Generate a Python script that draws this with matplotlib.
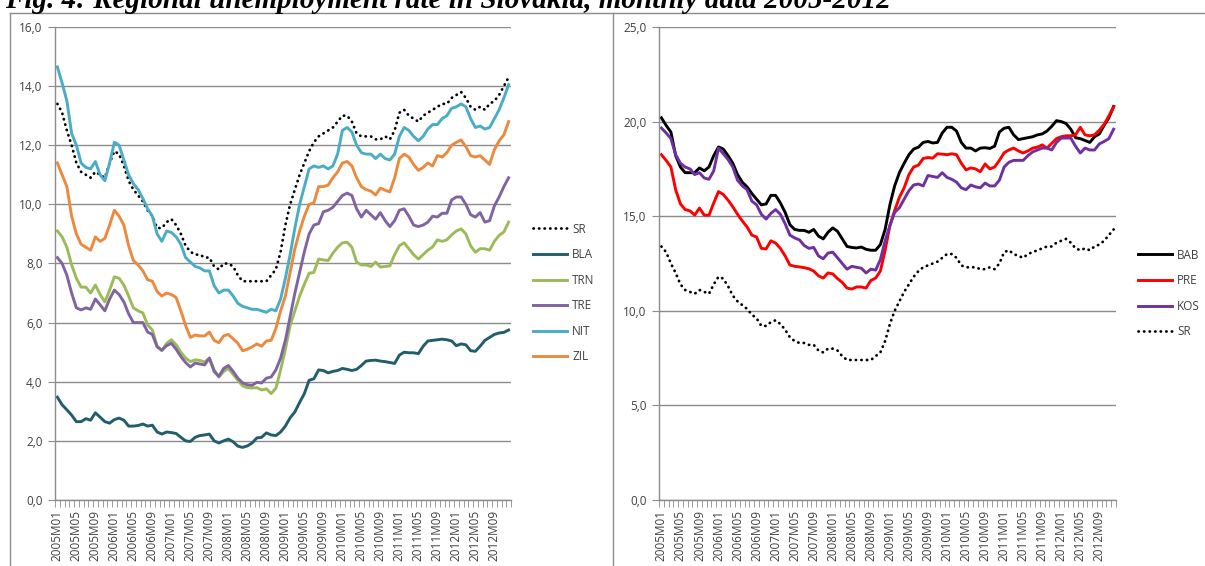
import matplotlib
matplotlib.use("Agg")
import matplotlib.pyplot as plt
from matplotlib.lines import Line2D
from matplotlib.ticker import FuncFormatter
import numpy as np

# months 2005M01 .. 2012M12
months = [f"{y}M{m:02d}" for y in range(2005, 2013) for m in range(1, 13)]

# unemployment rates (%)
SR = [13.4, 13.1, 12.5, 12.0, 11.4, 11.1, 11.0, 10.9, 11.1, 11.0, 10.9, 11.4,
      11.8, 11.7, 11.3, 10.8, 10.5, 10.3, 10.1, 9.8, 9.6, 9.2, 9.2, 9.4,
      9.5, 9.3, 9.0, 8.6, 8.4, 8.3, 8.3, 8.2, 8.2, 7.9, 7.8, 8.0,
      8.0, 7.9, 7.6, 7.4, 7.4, 7.4, 7.4, 7.4, 7.4, 7.6, 7.8, 8.4,
      9.3, 10.0, 10.5, 11.0, 11.4, 11.8, 12.1, 12.3, 12.4, 12.5, 12.6, 12.8,
      13.0, 13.0, 12.8, 12.4, 12.3, 12.3, 12.3, 12.2, 12.2, 12.3, 12.2, 12.5,
      13.1, 13.2, 13.0, 12.9, 12.8, 13.0, 13.1, 13.2, 13.3, 13.4, 13.4, 13.6,
      13.7, 13.8, 13.6, 13.3, 13.2, 13.3, 13.2, 13.4, 13.5, 13.7, 14.0, 14.3]

BLA = [3.48, 3.22, 3.05, 2.87, 2.65, 2.65, 2.75, 2.7, 2.95, 2.8, 2.65, 2.6,
       2.72, 2.77, 2.7, 2.5, 2.5, 2.52, 2.57, 2.5, 2.53, 2.3, 2.23, 2.3,
       2.28, 2.25, 2.12, 2.0, 1.98, 2.12, 2.18, 2.2, 2.23, 2.0, 1.93, 2.0,
       2.06, 1.97, 1.82, 1.78, 1.83, 1.93, 2.1, 2.12, 2.27, 2.2, 2.18, 2.3,
       2.5, 2.78, 2.98, 3.3, 3.6, 4.05, 4.1, 4.4, 4.38, 4.3, 4.35, 4.38,
       4.45, 4.42, 4.38, 4.42, 4.55, 4.7, 4.72, 4.73, 4.7, 4.68, 4.65, 4.62,
       4.9, 5.0, 4.98, 4.98, 4.95, 5.2, 5.38, 5.4, 5.42, 5.44, 5.42, 5.38,
       5.22, 5.28, 5.25, 5.05, 5.03, 5.2, 5.4, 5.5, 5.6, 5.65, 5.67, 5.75]

TRN = [9.1, 8.9, 8.55, 7.95, 7.5, 7.2, 7.2, 7.0, 7.27, 6.95, 6.7, 7.1,
       7.55, 7.5, 7.27, 6.9, 6.5, 6.4, 6.33, 5.92, 5.75, 5.2, 5.05, 5.3,
       5.42, 5.25, 5.0, 4.8, 4.68, 4.74, 4.72, 4.67, 4.8, 4.4, 4.16, 4.35,
       4.45, 4.25, 4.05, 3.86, 3.8, 3.79, 3.8, 3.72, 3.76, 3.6, 3.78, 4.4,
       5.1, 5.9, 6.4, 6.9, 7.3, 7.67, 7.7, 8.15, 8.12, 8.1, 8.35, 8.55,
       8.7, 8.72, 8.55, 8.05, 7.95, 7.95, 7.9, 8.05, 7.88, 7.9, 7.92, 8.3,
       8.6, 8.7, 8.5, 8.3, 8.15, 8.3, 8.45, 8.56, 8.8, 8.75, 8.8, 8.97,
       9.1, 9.17, 9.0, 8.6, 8.38, 8.5, 8.5, 8.45, 8.75, 8.95, 9.07, 9.4]

TRE = [8.2, 8.0, 7.6, 7.0, 6.5, 6.43, 6.5, 6.45, 6.8, 6.6, 6.4, 6.8,
       7.1, 6.95, 6.7, 6.3, 6.0, 6.0, 6.0, 5.68, 5.6, 5.18, 5.07, 5.22,
       5.3, 5.1, 4.85, 4.65, 4.5, 4.63, 4.6, 4.57, 4.8, 4.35, 4.18, 4.45,
       4.55, 4.35, 4.12, 3.96, 3.9, 3.88, 3.98, 3.96, 4.12, 4.16, 4.4, 4.8,
       5.4, 6.2, 7.0, 7.7, 8.4, 9.0, 9.3, 9.35, 9.75, 9.8, 9.9, 10.1,
       10.3, 10.38, 10.3, 9.85, 9.57, 9.8, 9.65, 9.5, 9.72, 9.45, 9.25, 9.45,
       9.8, 9.85, 9.6, 9.3, 9.25, 9.3, 9.4, 9.6, 9.57, 9.7, 9.7, 10.15,
       10.25, 10.25, 10.0, 9.65, 9.57, 9.72, 9.4, 9.45, 9.95, 10.25, 10.6, 10.9]

NIT = [14.65, 14.1, 13.5, 12.4, 12.0, 11.4, 11.25, 11.2, 11.45, 11.0, 10.8, 11.4,
       12.1, 12.0, 11.5, 11.0, 10.7, 10.5, 10.2, 9.85, 9.6, 9.0, 8.75, 9.1,
       9.05, 8.9, 8.65, 8.2, 8.05, 7.9, 7.85, 7.75, 7.75, 7.25, 7.0, 7.1,
       7.1, 6.9, 6.65, 6.55, 6.5, 6.45, 6.45, 6.4, 6.35, 6.45, 6.4, 6.8,
       7.5, 8.3, 9.2, 10.0, 10.6, 11.2, 11.3, 11.25, 11.3, 11.2, 11.3, 11.7,
       12.5, 12.6, 12.45, 12.0, 11.75, 11.7, 11.7, 11.55, 11.7, 11.55, 11.5, 11.7,
       12.3, 12.6, 12.5, 12.3, 12.15, 12.3, 12.55, 12.7, 12.7, 12.9, 13.0, 13.25,
       13.3, 13.4, 13.3, 12.9, 12.6, 12.65, 12.55, 12.6, 12.9, 13.2, 13.6, 14.05]

ZIL = [11.4, 11.0, 10.6, 9.6, 9.0, 8.65, 8.55, 8.45, 8.9, 8.75, 8.85, 9.3,
       9.8, 9.6, 9.3, 8.6, 8.1, 7.95, 7.75, 7.45, 7.4, 7.05, 6.9, 7.0,
       6.95, 6.85, 6.4, 5.9, 5.5, 5.58, 5.55, 5.55, 5.68, 5.4, 5.32, 5.55,
       5.6, 5.45, 5.3, 5.05, 5.1, 5.18, 5.28, 5.2, 5.38, 5.4, 5.8, 6.4,
       6.9, 7.7, 8.5, 9.1, 9.6, 10.0, 10.05, 10.6, 10.6, 10.65, 10.9, 11.1,
       11.4, 11.45, 11.3, 10.9, 10.6, 10.5, 10.45, 10.32, 10.55, 10.48, 10.42, 10.9,
       11.55, 11.7, 11.6, 11.35, 11.15, 11.25, 11.4, 11.3, 11.65, 11.6, 11.75, 12.0,
       12.1, 12.18, 11.95, 11.65, 11.6, 11.65, 11.5, 11.35, 11.85, 12.15, 12.35, 12.8]

BAB = [20.2, 19.8, 19.45, 18.2, 17.6, 17.3, 17.3, 17.3, 17.55, 17.4, 17.6, 18.2,
       18.66, 18.55, 18.2, 17.8, 17.2, 16.8, 16.55, 16.2, 15.9, 15.6, 15.65, 16.1,
       16.1, 15.7, 15.2, 14.55, 14.3, 14.25, 14.25, 14.15, 14.3, 13.95, 13.8, 14.15,
       14.38, 14.2, 13.8, 13.4, 13.35, 13.32, 13.37, 13.25, 13.2, 13.2, 13.5, 14.3,
       15.6, 16.6, 17.3, 17.8, 18.25, 18.55, 18.65, 18.9, 18.95, 18.87, 18.9, 19.4,
       19.7, 19.7, 19.5, 18.9, 18.6, 18.6, 18.45, 18.6, 18.62, 18.58, 18.7, 19.45,
       19.65, 19.7, 19.3, 19.05, 19.1, 19.15, 19.2, 19.3, 19.35, 19.5, 19.75, 20.05,
       20.0, 19.9, 19.6, 19.15, 19.1, 19.0, 18.9, 19.2, 19.35, 19.8, 20.2, 20.8]

PRE = [18.25, 17.95, 17.6, 16.4, 15.65, 15.35, 15.28, 15.06, 15.43, 15.06, 15.05, 15.7,
       16.3, 16.15, 15.85, 15.5, 15.1, 14.75, 14.43, 14.0, 13.9, 13.3, 13.27, 13.7,
       13.58, 13.3, 12.9, 12.42, 12.35, 12.32, 12.28, 12.22, 12.1, 11.85, 11.73, 12.0,
       11.95, 11.7, 11.5, 11.2, 11.15, 11.26, 11.26, 11.2, 11.6, 11.73, 12.1, 13.2,
       14.5, 15.3, 16.0, 16.5, 17.2, 17.6, 17.7, 18.05, 18.1, 18.07, 18.3, 18.28,
       18.25, 18.3, 18.25, 17.8, 17.45, 17.55, 17.5, 17.35, 17.76, 17.5, 17.6, 17.95,
       18.35, 18.5, 18.6, 18.45, 18.34, 18.45, 18.6, 18.65, 18.77, 18.6, 18.85, 19.1,
       19.2, 19.25, 19.25, 19.3, 19.7, 19.3, 19.25, 19.3, 19.55, 19.85, 20.3, 20.77]

KOS = [19.66, 19.4, 19.1, 18.25, 17.8, 17.6, 17.5, 17.2, 17.3, 17.02, 16.95, 17.4,
       18.6, 18.3, 18.0, 17.6, 16.9, 16.6, 16.4, 15.8, 15.6, 15.1, 14.85, 15.15,
       15.35, 15.1, 14.6, 14.0, 13.85, 13.75, 13.45, 13.3, 13.35, 12.9, 12.75, 13.05,
       13.1, 12.8, 12.5, 12.2, 12.35, 12.3, 12.25, 12.0, 12.2, 12.15, 12.7, 13.7,
       14.5, 15.2, 15.45, 15.9, 16.35, 16.65, 16.7, 16.6, 17.15, 17.1, 17.05, 17.3,
       17.05, 16.95, 16.8, 16.5, 16.4, 16.65, 16.55, 16.5, 16.75, 16.6, 16.6, 16.9,
       17.6, 17.85, 17.95, 17.95, 17.95, 18.2, 18.4, 18.5, 18.6, 18.6, 18.5, 18.9,
       19.13, 19.13, 19.13, 18.7, 18.34, 18.6, 18.5, 18.5, 18.82, 18.95, 19.1, 19.6]

W, H = 1205, 566
fig = plt.figure(figsize=(W / 100, H / 100), dpi=100)

grid_col = '#8c8c8c'
txt_col = '#404040'
fs = 8.5
lw = 2.1
dot = dict(color='black', lw=2.0, linestyle=(0, (0.1, 1.9)), dash_capstyle='round')
x = np.arange(len(months))


def style_axes(ax, ymax, step):
    ax.set_xlim(-0.5, len(months) - 0.5)
    ax.set_ylim(0, ymax)
    ax.set_yticks(np.arange(0, ymax + 0.01, step))
    ax.yaxis.set_major_formatter(FuncFormatter(lambda v, p: f"{v:.1f}".replace('.', ',')))
    ax.yaxis.grid(True, color=grid_col, lw=1.0)
    ax.set_axisbelow(True)
    for s in ['top', 'right']:
        ax.spines[s].set_visible(False)
    for s in ['left', 'bottom']:
        ax.spines[s].set_color(grid_col)
        ax.spines[s].set_linewidth(1.0)
    ax.tick_params(axis='y', length=5, color=grid_col, labelsize=fs,
                   labelcolor=txt_col, pad=4)
    ax.set_xticks(x[::4])
    ax.set_xticklabels(months[::4], rotation=90)
    ax.set_xticks(np.arange(-0.5, len(months), 1), minor=True)
    ax.tick_params(axis='x', which='major', length=0, labelsize=fs,
                   labelcolor=txt_col, pad=7)
    ax.tick_params(axis='x', which='minor', length=5, color=grid_col)
    for t in ax.get_xticklabels() + ax.get_yticklabels():
        t.set_fontfamily('Open Sans')


leg_kw = dict(loc='upper left', bbox_transform=fig.transFigure, frameon=False,
              handlelength=2.9, handletextpad=0.45, labelspacing=1.06,
              prop={'family': 'Open Sans', 'size': fs}, labelcolor=txt_col)

# left panel
ax1 = fig.add_axes([55 / W, 1 - 500 / H, 456 / W, 473 / H])
ax1.plot(x, SR, label='SR', **dot)
ax1.plot(x, BLA, color='#215d6b', lw=lw, label='BLA')
ax1.plot(x, TRN, color='#9bbb59', lw=lw, label='TRN')
ax1.plot(x, TRE, color='#8064a2', lw=lw, label='TRE')
ax1.plot(x, NIT, color='#4bacc6', lw=lw, label='NIT')
ax1.plot(x, ZIL, color='#eb8a3e', lw=lw, label='ZIL')
style_axes(ax1, 16, 2)
ax1.legend(bbox_to_anchor=(522 / W, 1 - 212 / H), **leg_kw)

# right panel
ax2 = fig.add_axes([659 / W, 1 - 500 / H, 457 / W, 473 / H])
ax2.plot(x, BAB, color='black', lw=lw, label='BAB')
ax2.plot(x, PRE, color='#ff0000', lw=lw, label='PRE')
ax2.plot(x, KOS, color='#7030a0', lw=lw, label='KOS')
ax2.plot(x, SR, label='SR', **dot)
style_axes(ax2, 25, 5)
ax2.legend(bbox_to_anchor=(1127 / W, 1 - 238 / H), **leg_kw)

# chart area frames
border = '#8c8c8c'
for (x0, y0, x1, y1) in [(10, 13, 1205, 13), (10, 13, 10, 566), (613, 13, 613, 566)]:
    fig.add_artist(Line2D([x0 / W, x1 / W], [1 - y0 / H, 1 - y1 / H],
                          transform=fig.transFigure, color=border, lw=1.0))

# title, partly cut off at the top as on the source page
fig.text(5 / W, 1 - 8 / H, 'Fig. 4: Regional unemployment rate in Slovakia, monthly data 2005-2012',
         fontfamily='Liberation Serif', fontweight='bold', fontstyle='italic',
         fontsize=21, va='baseline', ha='left')

fig.savefig('out.png', dpi=100)
